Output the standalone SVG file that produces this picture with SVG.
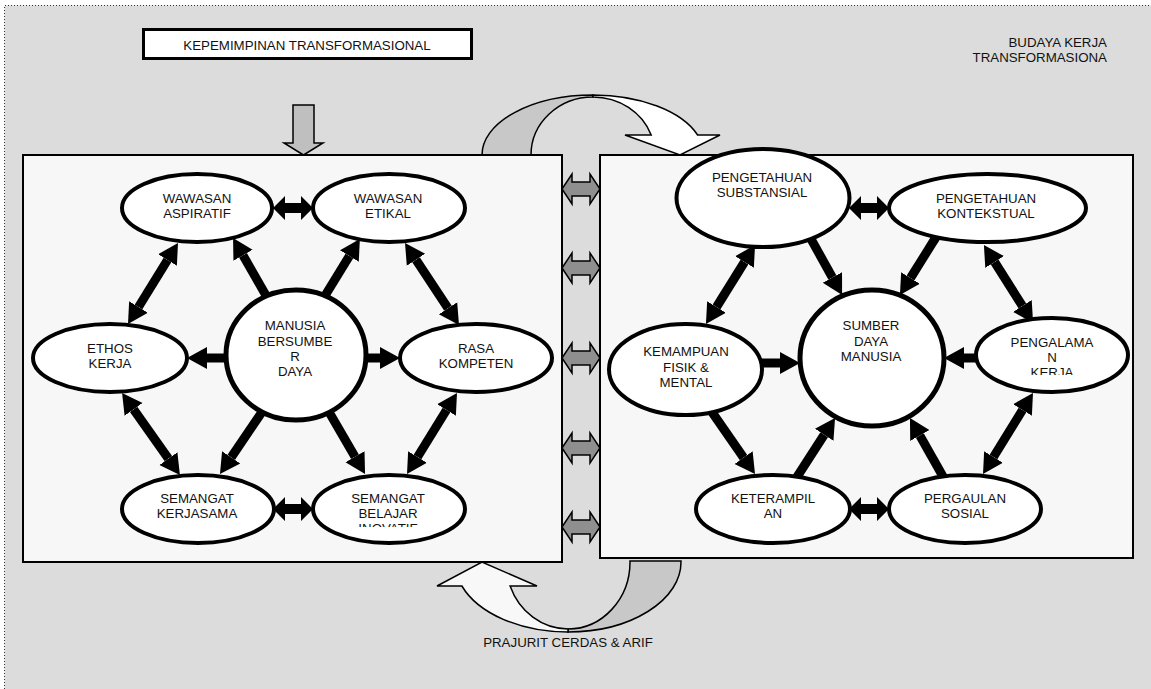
<svg xmlns="http://www.w3.org/2000/svg" width="1151" height="689" viewBox="0 0 1151 689">
<style>
.t{font-family:"Liberation Sans",Arial,Helvetica,sans-serif;font-size:13.3px;fill:#111;text-anchor:middle}
.te{font-family:"Liberation Sans",Arial,Helvetica,sans-serif;font-size:13.3px;fill:#111;text-anchor:end}
.el{fill:#fff;stroke:#000;stroke-width:4}
.ci{fill:#fff;stroke:#000;stroke-width:5}
.panel{fill:#f7f7f7;stroke:#000;stroke-width:2}
.cn{stroke:#000;stroke-width:9;fill:none;marker-end:url(#ah)}
.cn2{stroke:#000;stroke-width:9;fill:none;marker-start:url(#ah);marker-end:url(#ah)}
.ga{fill:#8f8f8f;stroke:#000;stroke-width:1.5;stroke-linejoin:miter}
.ba{fill:#000;stroke:none}
.cv{stroke:#000;stroke-width:1.5;stroke-linejoin:miter}
</style>
<defs>
<marker id="ah" markerUnits="userSpaceOnUse" markerWidth="21" markerHeight="24" viewBox="0 -12 21 24" refX="0" refY="0" orient="auto-start-reverse">
<path d="M0,-11 L20,0 L0,11 Z" fill="#000"/>
</marker>
<path id="garrow" d="M0,0 L10,-15 L10,-7 L28,-7 L28,-15 L38,0 L28,15 L28,7 L10,7 L10,15 Z"/>
<path id="barrow" d="M0,0 L12,-12 L12,-5 L28,-5 L28,-12 L40,0 L28,12 L28,5 L12,5 L12,12 Z"/>
<clipPath id="clipBelajar"><rect x="300" y="480" width="180" height="47"/></clipPath>
<clipPath id="clipPengalaman"><rect x="980" y="320" width="150" height="55"/></clipPath>
</defs>

<g id="background">
<rect x="4.5" y="5.5" width="1150" height="690" fill="#dcdcdc"/>
<path d="M4.5,689 V5.5 H1151" fill="none" stroke="#333" stroke-width="1" stroke-dasharray="1,2"/>
</g>

<g id="title">
<rect x="143.5" y="29.5" width="328" height="29" fill="#fff" stroke="#000" stroke-width="3"/>
<text class="t" x="307" y="49.5">KEPEMIMPINAN TRANSFORMASIONAL</text>
</g>

<g id="budaya-label">
<text class="te" x="1107" y="47">BUDAYA KERJA</text>
<text class="te" x="1107" y="62">TRANSFORMASIONA</text>
</g>

<g id="down-arrow">
<path d="M293,105 L314,105 L314,143 L323,143 L303.5,155 L284,143 L293,143 Z" fill="#bfbfbf" stroke="#000" stroke-width="1.5"/>
</g>

<g id="curved-arrow-top">
<path class="cv" fill="#c8c8c8" d="M482,156 L482,155 A111,60 0 0 1 593,95 L593,97 A62,58 0 0 0 531,155 L531,156 Z"/>
<path class="cv" fill="#ffffff" d="M593,95 A111,60 0 0 1 697.6,135 L720,135 L680,155 L625,135 L651.2,135 A62,58 0 0 0 593,97 Z"/>
</g>

<g id="curved-arrow-bottom">
<path class="cv" fill="#c8c8c8" d="M681,561 L681,562 A113,70 0 0 1 568,632 L568,629 A62,67 0 0 0 630,562 L630,561 Z"/>
<path class="cv" fill="#f8f8f8" d="M568,632 A113,70 0 0 1 461.9,586 L437,586 L482,562 L537,586 L510.1,586 A62,67 0 0 0 568,629 Z"/>
<text class="t" x="568" y="647">PRAJURIT CERDAS &amp; ARIF</text>
</g>

<g id="panel-left"><rect class="panel" x="23" y="155" width="539" height="407"/></g>
<g id="panel-right"><rect class="panel" x="600" y="155" width="533" height="403"/></g>

<g id="connectors">
<use href="#garrow" class="ga" x="562" y="189"/>
<use href="#garrow" class="ga" x="562" y="268"/>
<use href="#garrow" class="ga" x="562" y="358"/>
<use href="#garrow" class="ga" x="562" y="448"/>
<use href="#garrow" class="ga" x="562" y="527"/>

<use href="#barrow" class="ba" x="273" y="208"/>
<use href="#barrow" class="ba" x="273" y="509"/>
<use href="#barrow" class="ba" x="849" y="208"/>
<use href="#barrow" class="ba" x="849" y="509"/>

<line class="cn2" x1="167.5" y1="260" x2="138.5" y2="307"/>
<line class="cn" x1="268" y1="299" x2="243" y2="255.3"/>
<line class="cn" x1="323" y1="299" x2="349.4" y2="256"/>
<line class="cn2" x1="416" y1="259.7" x2="448" y2="308.3"/>
<line class="cn" x1="232" y1="358" x2="207" y2="358"/>
<line class="cn" x1="360" y1="358" x2="380" y2="358"/>
<line class="cn2" x1="133.6" y1="409.3" x2="168.4" y2="458.7"/>
<line class="cn" x1="262" y1="412" x2="231.2" y2="457.4"/>
<line class="cn" x1="329" y1="412" x2="355" y2="456.7"/>
<line class="cn2" x1="446.5" y1="410" x2="417.5" y2="457"/>

<line class="cn" x1="806" y1="230" x2="832.4" y2="277.5"/>
<line class="cn" x1="938" y1="234" x2="910.5" y2="278"/>
<line class="cn2" x1="744.5" y1="262" x2="716.5" y2="307"/>
<line class="cn2" x1="994.6" y1="262" x2="1022.4" y2="306"/>
<line class="cn" x1="756" y1="363" x2="780" y2="363"/>
<line class="cn" x1="982" y1="358" x2="964" y2="358"/>
<line class="cn2" x1="709.4" y1="408.4" x2="743.6" y2="457.6"/>
<line class="cn" x1="795" y1="480" x2="824.2" y2="434.8"/>
<line class="cn" x1="945" y1="480" x2="919.8" y2="435.5"/>
<line class="cn2" x1="1022.5" y1="410" x2="993.5" y2="457"/>
</g>

<g id="n-wawasan-aspiratif"><ellipse class="el" cx="197" cy="208" rx="75" ry="34"/>
<text class="t" x="197" y="202.5">WAWASAN</text><text class="t" x="197" y="217.5">ASPIRATIF</text></g>
<g id="n-wawasan-etikal"><ellipse class="el" cx="389" cy="208" rx="76" ry="34"/>
<text class="t" x="388" y="202.5">WAWASAN</text><text class="t" x="388" y="217.5">ETIKAL</text></g>
<g id="n-ethos-kerja"><ellipse class="el" cx="110" cy="358" rx="77" ry="34"/>
<text class="t" x="110" y="353">ETHOS</text><text class="t" x="110" y="368">KERJA</text></g>
<g id="n-manusia"><ellipse class="ci" cx="296" cy="355" rx="70" ry="65"/>
<text class="t" x="295" y="330">MANUSIA</text><text class="t" x="295" y="346">BERSUMBE</text><text class="t" x="295" y="361">R</text><text class="t" x="295" y="376">DAYA</text></g>
<g id="n-rasa-kompeten"><ellipse class="el" cx="476" cy="358" rx="76" ry="34"/>
<text class="t" x="476" y="353">RASA</text><text class="t" x="476" y="368">KOMPETEN</text></g>
<g id="n-semangat-kerjasama"><ellipse class="el" cx="198" cy="509" rx="76" ry="34"/>
<text class="t" x="197" y="503">SEMANGAT</text><text class="t" x="197" y="518">KERJASAMA</text></g>
<g id="n-semangat-belajar"><ellipse class="el" cx="389" cy="509" rx="76" ry="34"/>
<g clip-path="url(#clipBelajar)"><text class="t" x="388" y="503">SEMANGAT</text><text class="t" x="388" y="518">BELAJAR</text><text class="t" x="388" y="533">INOVATIF</text></g></g>

<g id="n-pengetahuan-substansial"><ellipse class="el" cx="763" cy="198" rx="86.5" ry="49"/>
<text class="t" x="762" y="182">PENGETAHUAN</text><text class="t" x="762" y="197">SUBSTANSIAL</text></g>
<g id="n-pengetahuan-kontekstual"><ellipse class="el" cx="987.5" cy="208" rx="98.5" ry="34"/>
<text class="t" x="986" y="203">PENGETAHUAN</text><text class="t" x="986" y="218">KONTEKSTUAL</text></g>
<g id="n-kemampuan"><ellipse class="el" cx="685.5" cy="369.5" rx="76.5" ry="45.5"/>
<text class="t" x="686" y="356">KEMAMPUAN</text><text class="t" x="686" y="372">FISIK &amp;</text><text class="t" x="686" y="387">MENTAL</text></g>
<g id="n-sumber-daya-manusia"><ellipse class="ci" cx="872" cy="358" rx="72" ry="68"/>
<text class="t" x="871" y="330">SUMBER</text><text class="t" x="871" y="346">DAYA</text><text class="t" x="871" y="361">MANUSIA</text></g>
<g id="n-pengalaman-kerja"><ellipse class="el" cx="1052" cy="355" rx="76" ry="37"/>
<g clip-path="url(#clipPengalaman)"><text class="t" x="1052" y="347">PENGALAMA</text><text class="t" x="1052" y="362">N</text><text class="t" x="1052" y="377">KERJA</text></g></g>
<g id="n-keterampilan"><ellipse class="el" cx="773" cy="509" rx="77" ry="34"/>
<text class="t" x="773" y="503">KETERAMPIL</text><text class="t" x="773" y="518">AN</text></g>
<g id="n-pergaulan-sosial"><ellipse class="el" cx="965" cy="509" rx="76" ry="34"/>
<text class="t" x="965" y="503">PERGAULAN</text><text class="t" x="965" y="518">SOSIAL</text></g>
</svg>
